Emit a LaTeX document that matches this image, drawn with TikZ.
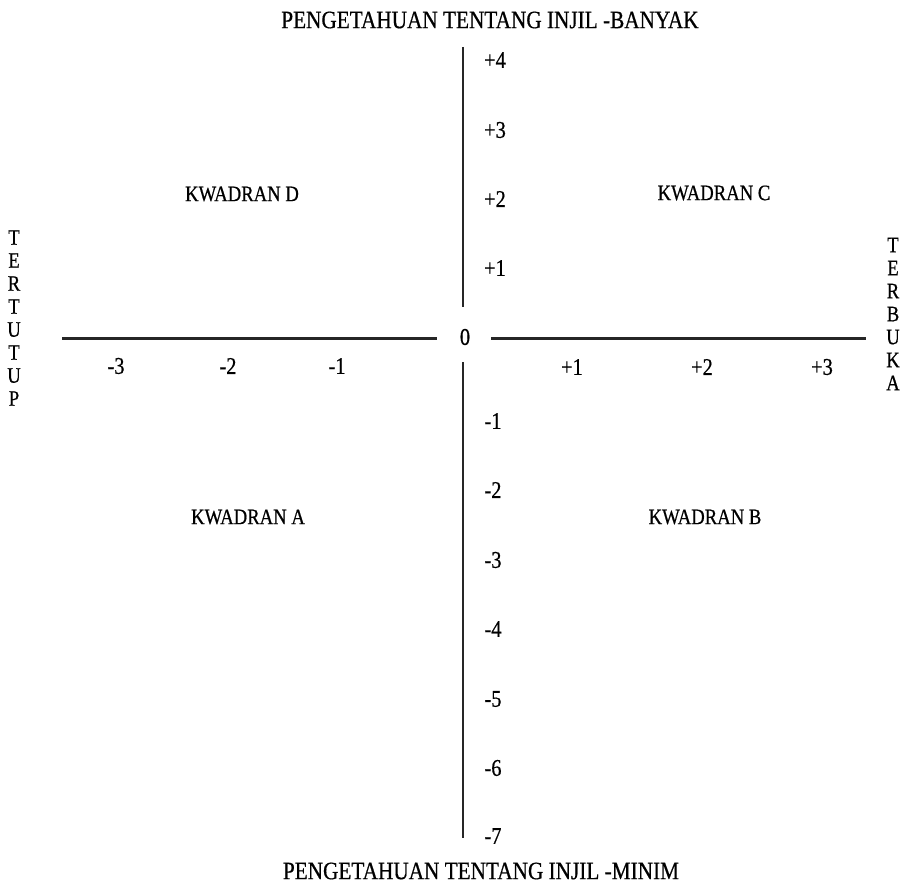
\documentclass[tikz,border=0pt]{standalone}
\usepackage{fontspec}
\setmainfont{Liberation Serif}[FakeStretch=0.85, FakeBold=0.6]
\usepackage{tikz}
\usetikzlibrary{positioning}

\begin{document}
\begin{tikzpicture}[
  x=1pt, y=-1pt,
  ttl/.style={font=\fontsize{25}{27}\selectfont, inner sep=0pt},
  num/.style={font=\fontsize{24}{26}\selectfont, inner sep=0pt},
  quad/.style={font=\fontsize{22}{24}\selectfont, inner sep=0pt},
  side/.style={font=\fontsize{22}{23}\selectfont, align=center, inner sep=0pt},
  hax/.style={draw=black!85, line width=3pt},
  vax/.style={draw=black!85, line width=2.6pt}
]
\useasboundingbox (0,0) rectangle (909,885);
\node[ttl] (top) at (490,20) {PENGETAHUAN TENTANG INJIL -BANYAK};
\node[ttl] (bottom) at (481,871) {PENGETAHUAN TENTANG INJIL -MINIM};
\node[side] (tertutup) at (14,318) {T\\E\\R\\T\\U\\T\\U\\P};
\node[side] (terbuka) at (893,314) {T\\E\\R\\B\\U\\K\\A};
\node[num] (zero) at (465,337) {0};
% axis ends
\coordinate (xl) at (62,338);
\coordinate (xlm) at (437,338);
\coordinate (xrm) at (491,338);
\coordinate (xr) at (866,338);
\coordinate (yt) at (463,47);
\coordinate (ytm) at (463,307);
\coordinate (ybm) at (463,362);
\coordinate (yb) at (463,838);
\draw[hax] (xl) -- (xlm);
\draw[hax] (xrm) -- (xr);
\draw[vax] (yt) -- (ytm);
\draw[vax] (ybm) -- (yb);
% scale labels
\node[num] (yp4) at (495,60) {+4};
\node[num] (yp3) at (495,130) {+3};
\node[num] (yp2) at (495,199) {+2};
\node[num] (yp1) at (495,268) {+1};
\node[num] (ym1) at (493,421) {-1};
\node[num] (ym2) at (493,490) {-2};
\node[num] (ym3) at (493,560) {-3};
\node[num] (ym4) at (493,629) {-4};
\node[num] (ym5) at (493,699) {-5};
\node[num] (ym6) at (493,768) {-6};
\node[num] (ym7) at (493,836) {-7};
\node[num] (xm3) at (116,366) {-3};
\node[num] (xm2) at (228,366) {-2};
\node[num] (xm1) at (337,366) {-1};
\node[num] (xp1) at (572,367) {+1};
\node[num] (xp2) at (702,367) {+2};
\node[num] (xp3) at (822,367) {+3};
% quadrants
\node[quad] (qd) at (242,194) {KWADRAN D};
\node[quad] (qc) at (714,193) {KWADRAN C};
\node[quad] (qa) at (248,517) {KWADRAN A};
\node[quad] (qb) at (705,517) {KWADRAN B};
\end{tikzpicture}
\end{document}
